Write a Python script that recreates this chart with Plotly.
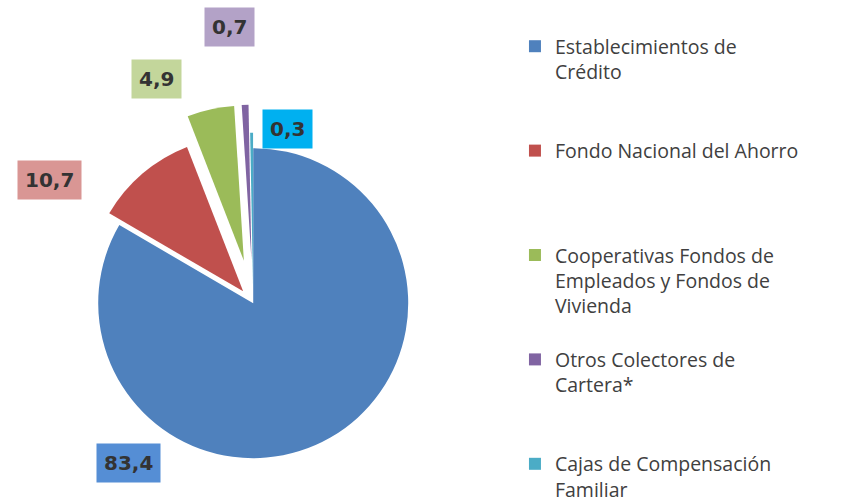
import plotly.graph_objects as go

categories = [
    "Establecimientos de<br>Crédito",
    "Fondo Nacional del Ahorro",
    "Cooperativas Fondos de<br>Empleados y Fondos de<br>Vivienda",
    "Otros Colectores de<br>Cartera*",
    "Cajas de Compensación<br>Familiar",
]
values = [83.4, 10.7, 4.9, 0.7, 0.3]

slice_colors = ["#4F81BD", "#C0504D", "#9BBB59", "#8064A2", "#4BACC6"]
box_colors = ["#558ED5", "#D99694", "#C3D69B", "#B3A2C7", "#00B0F0"]
pulls = [0.0, 0.1, 0.28, 0.28, 0.1]
label_pos = [(0.150, 0.1027), (0.0585, 0.651), (0.183, 0.847), (0.269, 0.948), (0.337, 0.75)]
pad_lines = [2, 3, 1, 2, 0]

legend_names = [c + "<br>&nbsp;" * p for c, p in zip(categories, pad_lines)]

fig = go.Figure(go.Pie(
    labels=legend_names,
    values=values,
    sort=False,
    direction="clockwise",
    rotation=0,
    pull=pulls,
    marker=dict(colors=slice_colors, line=dict(width=0)),
    textinfo="none",
    hoverinfo="label+value",
    domain=dict(x=[0, 0.593], y=[0.028, 0.797]),
))

for v, (x, y), bc in zip(values, label_pos, box_colors):
    fig.add_annotation(
        x=x, y=y, xref="paper", yref="paper",
        xanchor="center", yanchor="middle",
        text="<b>" + f"{v:.1f}".replace(".", ",") + "</b>",
        showarrow=False,
        bgcolor=bc,
        borderpad=7,
        font=dict(family="DejaVu Sans", size=20, color="#333333"),
    )

fig.update_layout(
    width=854, height=516,
    margin=dict(l=0, r=0, t=0, b=0),
    paper_bgcolor="white",
    plot_bgcolor="white",
    showlegend=True,
    legend=dict(
        x=0.603, y=0.0135, xanchor="left", yanchor="bottom",
        valign="top",
        font=dict(family="Open Sans", size=19.5, color="#404040"),
        traceorder="normal",
        itemclick=False,
    ),
)

fig.write_html(
    "out.html",
    config={"displayModeBar": False},
    post_script=(
        "document.body.style.margin='0';"
        "document.body.style.overflow='hidden';"
        "document.documentElement.style.overflow='hidden';"
    ),
)
